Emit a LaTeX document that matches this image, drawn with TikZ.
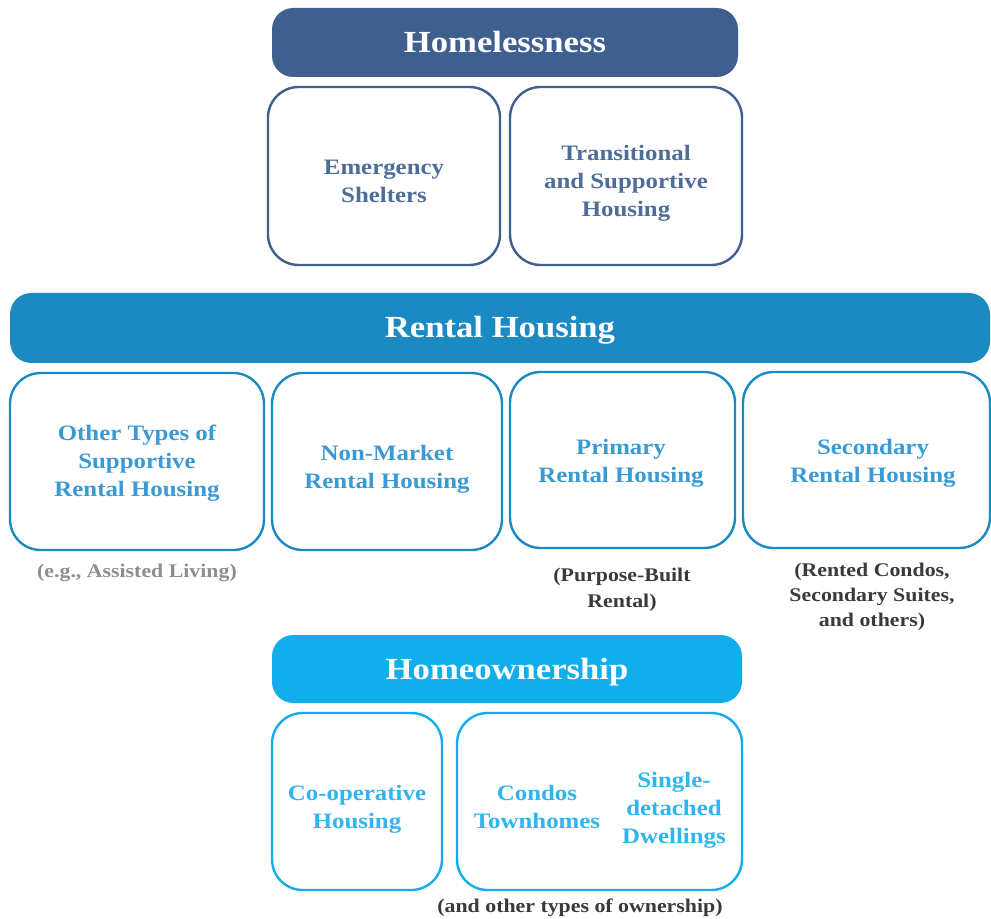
\documentclass[tikz,border=0pt]{standalone}
\usepackage{fontspec}
\setmainfont{Liberation Serif}[FakeStretch=1.13]
\begin{document}
\begin{tikzpicture}[x=0.75pt,y=-0.75pt]
\definecolor{hlFill}{HTML}{3F5F8E}
\definecolor{hlText}{HTML}{4E6D98}
\definecolor{rnFill}{HTML}{1B8AC2}
\definecolor{rnText}{HTML}{3A9AD4}
\definecolor{hoFill}{HTML}{12AEEB}
\definecolor{hoText}{HTML}{2FB5F0}
\definecolor{noteDark}{HTML}{3A3A3A}
\definecolor{noteGray}{HTML}{8E8E8E}
\tikzset{
  header/.style={rounded corners=16pt, inner sep=0pt, text=white,
    text height=15pt, text depth=0pt,
    font=\bfseries\fontsize{23}{27}\selectfont},
  card/.style={draw, line width=1.8pt, rounded corners=23pt, fill=white,
    inner sep=0pt},
  label/.style={align=center, font=\bfseries\fontsize{16.5}{21}\selectfont},
  note/.style={align=center, font=\bfseries\fontsize{14.5}{19}\selectfont}
}
\useasboundingbox (0,0) rectangle (991,919);

% Homelessness tier
\node[header, fill=hlFill, minimum width=466*0.75pt, minimum height=69*0.75pt]
  (homeless) at (505,42.5) {Homelessness};
\node[card, draw=hlFill, minimum width=232*0.75pt, minimum height=178*0.75pt]
  (emerg) at (384,176) {};
\node[card, draw=hlFill, minimum width=232*0.75pt, minimum height=178*0.75pt]
  (trans) at (626,176) {};
\node[label, text=hlText] (emergText) at (384,181) {Emergency\\Shelters};
\node[label, text=hlText] (transText) at (626,183) {Transitional\\and Supportive\\Housing};

% Rental tier
\node[header, fill=rnFill, minimum width=980*0.75pt, minimum height=70*0.75pt]
  (rental) at (500,328) {Rental Housing};
\node[card, draw=rnFill, minimum width=254*0.75pt, minimum height=177*0.75pt]
  (other) at (137,461.5) {};
\node[card, draw=rnFill, minimum width=230*0.75pt, minimum height=177*0.75pt]
  (nonmkt) at (387,461.5) {};
\node[card, draw=rnFill, minimum width=225*0.75pt, minimum height=176*0.75pt]
  (primary) at (622.5,460) {};
\node[card, draw=rnFill, minimum width=247*0.75pt, minimum height=176*0.75pt]
  (secondary) at (866.5,460) {};
\node[label, text=rnText] (otherText) at (137,463) {Other Types of\\Supportive\\Rental Housing};
\node[label, text=rnText] (nonmktText) at (387,469) {Non-Market\\Rental Housing};
\node[label, text=rnText] (primaryText) at (621,463) {Primary\\Rental Housing};
\node[label, text=rnText] (secondaryText) at (873,463) {Secondary\\Rental Housing};

\node[note, text=noteGray] (otherNote) at (137,573) {(e.g., Assisted Living)};
\node[note, text=noteDark] (primaryNote) at (622,590) {(Purpose-Built\\Rental)};
\node[note, text=noteDark] (secondaryNote) at (872,597) {(Rented Condos,\\Secondary Suites,\\and others)};

% Homeownership tier
\node[header, fill=hoFill, minimum width=470*0.75pt, minimum height=68*0.75pt]
  (homeown) at (507,669) {Homeownership};
\node[card, draw=hoFill, minimum width=170*0.75pt, minimum height=177*0.75pt]
  (coop) at (357,801.5) {};
\node[card, draw=hoFill, minimum width=285*0.75pt, minimum height=177*0.75pt]
  (owned) at (599.5,801.5) {};
\node[label, text=hoText] (coopText) at (357,809) {Co-operative\\Housing};
\node[label, text=hoText] (condos) at (537,807) {Condos\\Townhomes};
\node[label, text=hoText] (single) at (674,810) {Single-\\detached\\Dwellings};

\node[note, text=noteDark] (ownNote) at (580,908) {(and other types of ownership)};
\end{tikzpicture}
\end{document}
